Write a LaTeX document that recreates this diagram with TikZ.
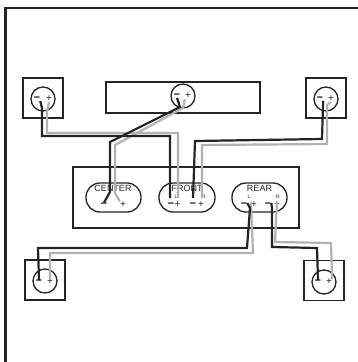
\documentclass[tikz,border=0pt]{standalone}
\usepackage{fontspec}
\setmainfont{Liberation Sans}
\usepackage{xcolor}
\definecolor{wiregray}{gray}{0.70}
\definecolor{inkdark}{gray}{0.14}
\tikzset{
    outline/.style={draw=inkdark, line width=1.3pt},
    panelbox/.style={outline, rectangle, minimum width=#1, inner sep=0pt},
    cone/.style={outline, circle, minimum size=24pt, inner sep=0pt},
    socket/.style={outline, rounded corners=14pt, inner sep=0pt},
    wireneg/.style={draw=inkdark, line width=2.2pt},
    wirepos/.style={draw=wiregray, line width=2.2pt},
    minus/.style={font=\fontsize{11}{11}\selectfont\bfseries, text=black, inner sep=0pt},
    plus/.style={font=\fontsize{10}{10}\selectfont, text=inkdark, inner sep=0pt},
    chan/.style={font=\fontsize{5}{5}\selectfont, text=inkdark, inner sep=0pt},
    title/.style={font=\fontsize{9}{9}\selectfont, text=inkdark, inner sep=0pt}
}
\begin{document}
\begin{tikzpicture}[x=1pt,y=-1pt]
    \useasboundingbox (0,0) rectangle (358,362);
    % frame
    \coordinate (framebl) at (5.5,362);
    \coordinate (framecorner) at (5.5,8);
    \coordinate (frametr) at (358,8);
    \draw[inkdark, line width=2.4pt] (framebl) -- (framecorner) -- (frametr);
    % boxes
    \node[panelbox=40pt, minimum height=40pt] (tlbox) at (43,98) {};
    \node[panelbox=40pt, minimum height=40pt] (trbox) at (326,98) {};
    \node[panelbox=40pt, minimum height=40pt] (blbox) at (45,280) {};
    \node[panelbox=40pt, minimum height=40pt] (brbox) at (324,280.5) {};
    \node[panelbox=154pt, minimum height=31pt] (centerbox) at (183,97.5) {};
    \node[panelbox=226pt, minimum height=61pt] (receiver) at (186,197.5) {};
    \node[cone] (tlcone) at (43,99) {};
    \node[cone] (trcone) at (326,99) {};
    \node[cone] (ctcone) at (183,96) {};
    \node[cone] (blcone) at (45,281) {};
    \node[cone] (brcone) at (324,282) {};
    \node[socket, minimum width=55pt, minimum height=29pt] (centersock) at (113.5,197.5) {};
    \node[socket, minimum width=56pt, minimum height=29pt] (frontsock) at (187,197.5) {};
    \node[socket, minimum width=55pt, minimum height=29pt] (rearsock) at (259.5,197.5) {};
    % texts
    \node[title] (centertext) at (113,188) {CENTER};
    \node[title] (fronttext) at (187,188) {FRONT};
    \node[title] (reartext) at (259.5,188) {REAR};
    \node[chan] (frontl) at (176,196.5) {L};
    \node[chan] (frontr) at (204,196.5) {R};
    \node[chan] (rearl) at (249,196.5) {L};
    \node[chan] (rearr) at (278,196.5) {R};
    % terminals
    \node[minus] (tlminus) at (37,99) {--};
    \node[plus] (tlplus) at (49,99) {+};
    \node[minus] (trminus) at (320,99) {--};
    \node[plus] (trplus) at (331,99) {+};
    \node[minus] (ctminus) at (177,96) {--};
    \node[plus] (ctplus) at (188,96) {+};
    \node[minus] (blminus) at (39,282) {--};
    \node[plus] (blplus) at (50,282) {+};
    \node[minus] (brminus) at (318,282) {--};
    \node[plus] (brplus) at (329,282) {+};
    \node[minus] (cminus) at (104,204.5) {--};
    \node[plus] (cplus) at (123,204.5) {+};
    \node[minus] (flminus) at (171,205) {--};
    \node[plus] (flplus) at (177.5,205) {+};
    \node[minus] (frminus) at (193,205) {--};
    \node[plus] (frplus) at (201,205) {+};
    \node[minus] (rlminus) at (244,205) {--};
    \node[plus] (rlplus) at (254,205) {+};
    \node[minus] (rrminus) at (268,205) {--};
    \node[plus] (rrplus) at (277,205) {+};
    % gray wires
    \draw[wirepos] (tlplus.south) -- (47,112) -- (47,133) -- (178,133) -- (178,198);
    \draw[wirepos] (ctplus.south west) -- (183,108) -- (115,145) -- (115,193) -- (cplus.north west);
    \draw[wirepos] (trplus.south) -- (327,105) -- (327,144) -- (202,145) -- (202,198);
    \draw[wirepos] (rlplus.north west) -- (253,253) -- (50,253) -- (blplus.north);
    \draw[wirepos] (rrplus.north) -- (275,242) -- (331,243) -- (brplus.north east);
    % black wires
    \draw[wireneg] (tlminus.south east) -- (42,108) -- (42,136) -- (170,136) -- (170,198);
    \draw[wireneg] (ctminus.south) -- (180,107) -- (110,142) -- (110,192) -- (cminus.north);
    \draw[wireneg] (trminus.south east) -- (323,105) -- (322,139) -- (195,141) -- (193,198);
    \draw[wireneg] (rlminus.north east) -- (250,208) -- (247,248) -- (38,248) -- (blminus.north);
    \draw[wireneg] (rrminus.north east) -- (272,208) -- (272,247) -- (317,248) -- (brminus.north);
\end{tikzpicture}
\end{document}
